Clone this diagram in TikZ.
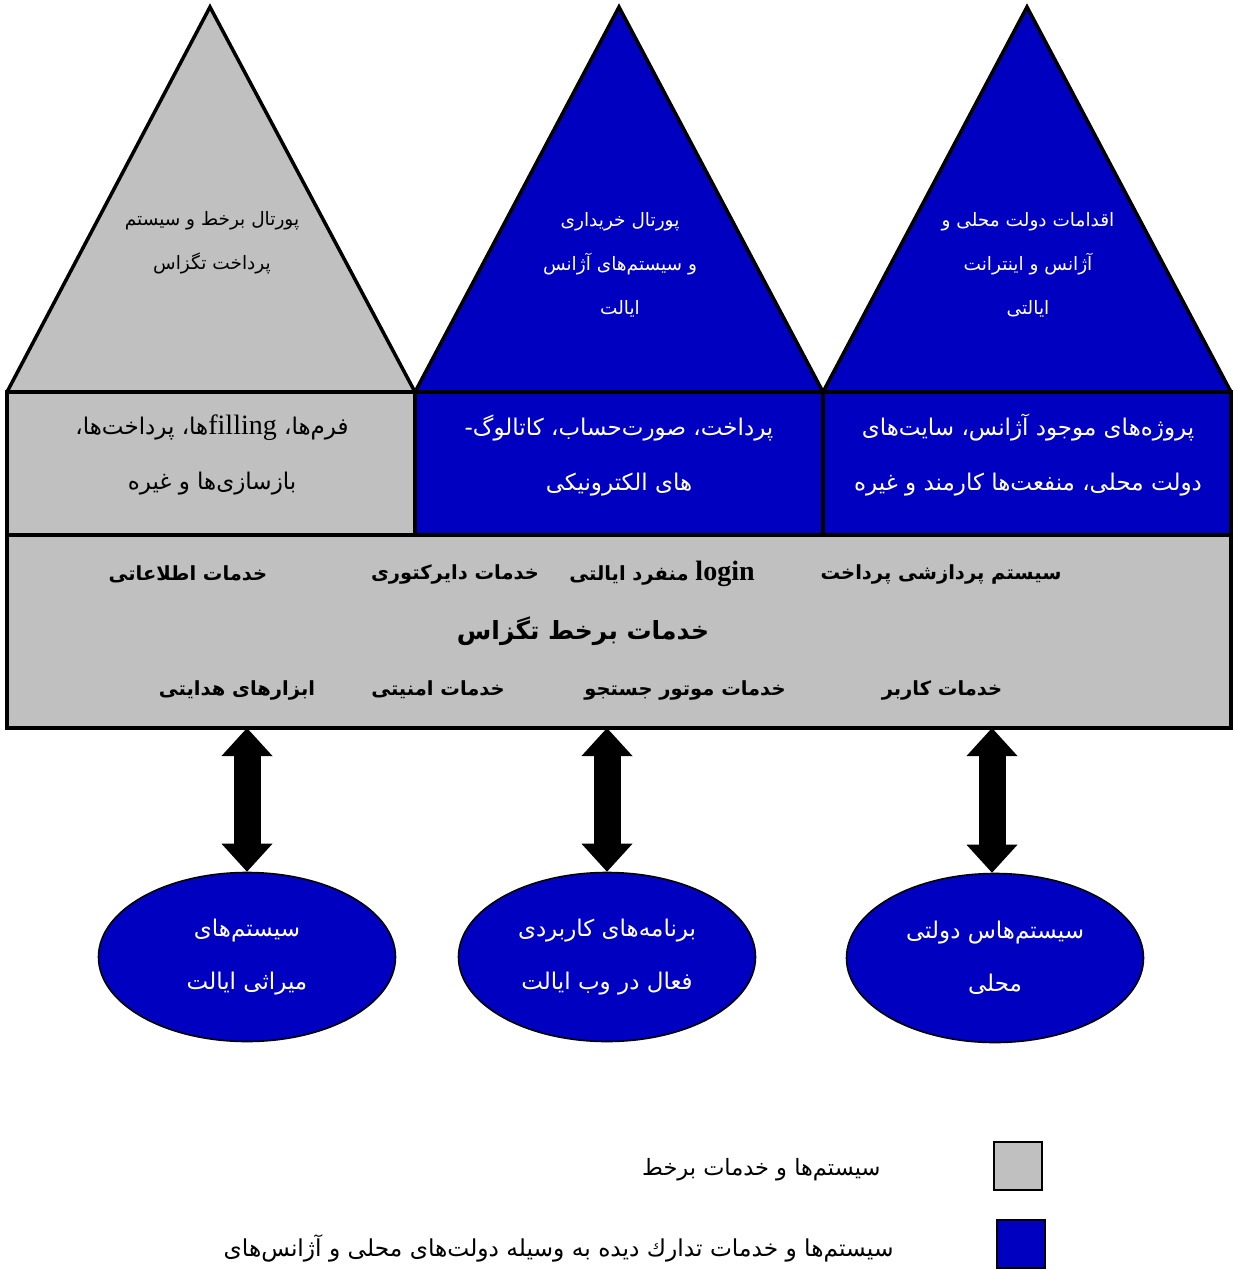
\documentclass[tikz,border=0pt]{standalone}
\usepackage{fontspec}
\TeXXeTstate=1
\newfontfamily\fa[Script=Arabic]{DejaVu Sans}
\newfontfamily\lat{Liberation Serif}
\usetikzlibrary{shapes.geometric,arrows.meta}
\definecolor{webgray}{RGB}{192,192,192}
\definecolor{stateblue}{RGB}{0,0,192}
\newcommand\rtxt[1]{\beginR #1\endR}
\tikzset{
  outline/.style={draw=black, line width=3.5pt, line join=miter},
  peaktext/.style={align=center, font=\fa\fontsize{18.5}{44}\selectfont},
  tiertext/.style={align=center, font=\fa\fontsize{23}{55}\selectfont},
  svctext/.style={font=\fa\bfseries\fontsize{19.5}{22}\selectfont},
  systext/.style={ellipse, draw=black, line width=1.6pt, fill=stateblue,
    text=white, align=center, minimum width=297pt, minimum height=169pt,
    font=\fa\fontsize{23}{53}\selectfont},
  legtext/.style={anchor=east, font=\fa\fontsize{22.5}{24}\selectfont},
  legbox/.style={draw=black, line width=1.5pt, minimum width=48pt,
    minimum height=48pt, inner sep=0pt},
  bigarrow/.style={line width=27pt,
    {Triangle[width=51pt,length=28pt,line width=0pt]}-{Triangle[width=51pt,length=28pt,line width=0pt]}}
}
\begin{document}
\begin{tikzpicture}[x=1pt,y=-1pt]
\useasboundingbox (0,0) rectangle (1234,1270);

% three portal peaks
\coordinate (p1l) at (7,392);   \coordinate (p1t) at (210,7);  \coordinate (p1r) at (415,392);
\coordinate (p2l) at (415,392); \coordinate (p2t) at (619,7);  \coordinate (p2r) at (823,392);
\coordinate (p3l) at (823,392); \coordinate (p3t) at (1027,7); \coordinate (p3r) at (1231,392);
\filldraw[outline, fill=webgray]   (p1l) -- (p1t) -- (p1r);
\filldraw[outline, fill=stateblue] (p2l) -- (p2t) -- (p2r);
\filldraw[outline, fill=stateblue] (p3l) -- (p3t) -- (p3r);

\node[peaktext] (pk1) at (212,243)
  {\rtxt{پورتال برخط و سیستم}\\\rtxt{پرداخت تگزاس}};
\node[peaktext, text=white] (pk2) at (620,265)
  {\rtxt{پورتال خریداری}\\\rtxt{و سیستم‌های آژانس}\\\rtxt{ایالت}};
\node[peaktext, text=white] (pk3) at (1028,265)
  {\rtxt{اقدامات دولت محلی و}\\\rtxt{آژانس و اینترانت}\\\rtxt{ایالتی}};

% middle tier
\filldraw[outline, fill=webgray]   (7,392) rectangle (415,535);
\filldraw[outline, fill=stateblue] (415,392) rectangle (823,535);
\filldraw[outline, fill=stateblue] (823,392) rectangle (1231,535);

\node[tiertext] (t1) at (212,455)
  {\rtxt{فرم‌ها، \beginL{\lat\fontsize{28}{55}\selectfont filling}\endL ها، پرداخت‌ها،}\\\rtxt{بازسازی‌ها و غیره}};
\node[tiertext, text=white] (t2) at (619,455)
  {\rtxt{پرداخت، صورت‌حساب، کاتالوگ-}\\\rtxt{های الکترونیکی}};
\node[tiertext, text=white] (t3) at (1028,455)
  {\rtxt{پروژه‌های موجود آژانس، سایت‌های}\\\rtxt{دولت محلی، منفعت‌ها کارمند و غیره}};

% shared online services
\node[outline, fill=webgray, minimum width=1224pt, minimum height=193pt,
  inner sep=0pt, outer sep=0pt, anchor=north west] (svc) at (7,535) {};

\node[svctext] (s1) at (941,574) {\rtxt{سیستم پردازشی پرداخت}};
\node[svctext] (s2) at (662,574) {\rtxt{\beginL{\lat\bfseries\fontsize{28}{22}\selectfont login}\endL{} منفرد ایالتی}};
\node[svctext] (s3) at (455,574) {\rtxt{خدمات دایرکتوری}};
\node[svctext] (s4) at (188,574) {\rtxt{خدمات اطلاعاتی}};
\node[svctext, font=\fa\bfseries\fontsize{25}{28}\selectfont] (s5) at (583,631)
  {\rtxt{خدمات برخط تگزاس}};
\node[svctext] (s6) at (942,690) {\rtxt{خدمات کاربر}};
\node[svctext] (s7) at (685,690) {\rtxt{خدمات موتور جستجو}};
\node[svctext] (s8) at (438,690) {\rtxt{خدمات امنیتی}};
\node[svctext] (s9) at (237,690) {\rtxt{ابزارهای هدایتی}};

% back-end systems
\node[systext] (e1) at (247,957) {\rtxt{سیستم‌های}\\\rtxt{میراثی ایالت}};
\node[systext] (e2) at (607,957) {\rtxt{برنامه‌های کاربردی}\\\rtxt{فعال در وب ایالت}};
\node[systext] (e3) at (995,958) {\rtxt{سیستم‌هاس دولتی}\\\rtxt{محلی}};

\draw[bigarrow] (svc.south -| e1.north) -- (e1.north);
\draw[bigarrow] (svc.south -| e2.north) -- (e2.north);
\draw[bigarrow] ([xshift=-3pt]svc.south -| e3.north) -- ([xshift=-3pt]e3.north);

% legend
\node[legbox, fill=webgray] (lg1) at (1018,1166) {};
\node[legbox, fill=stateblue] (lg2) at (1021,1244) {};
\node[legtext] (lt1) at (884,1170) {\rtxt{سیستم‌ها و خدمات برخط}};
\node[legtext, font=\fa\fontsize{23.3}{24}\selectfont] (lt2) at (897,1248)
  {\rtxt{سیستم‌ها و خدمات تدارك دیده به وسیله دولت‌های محلی و آژانس‌های}};
\end{tikzpicture}
\end{document}
